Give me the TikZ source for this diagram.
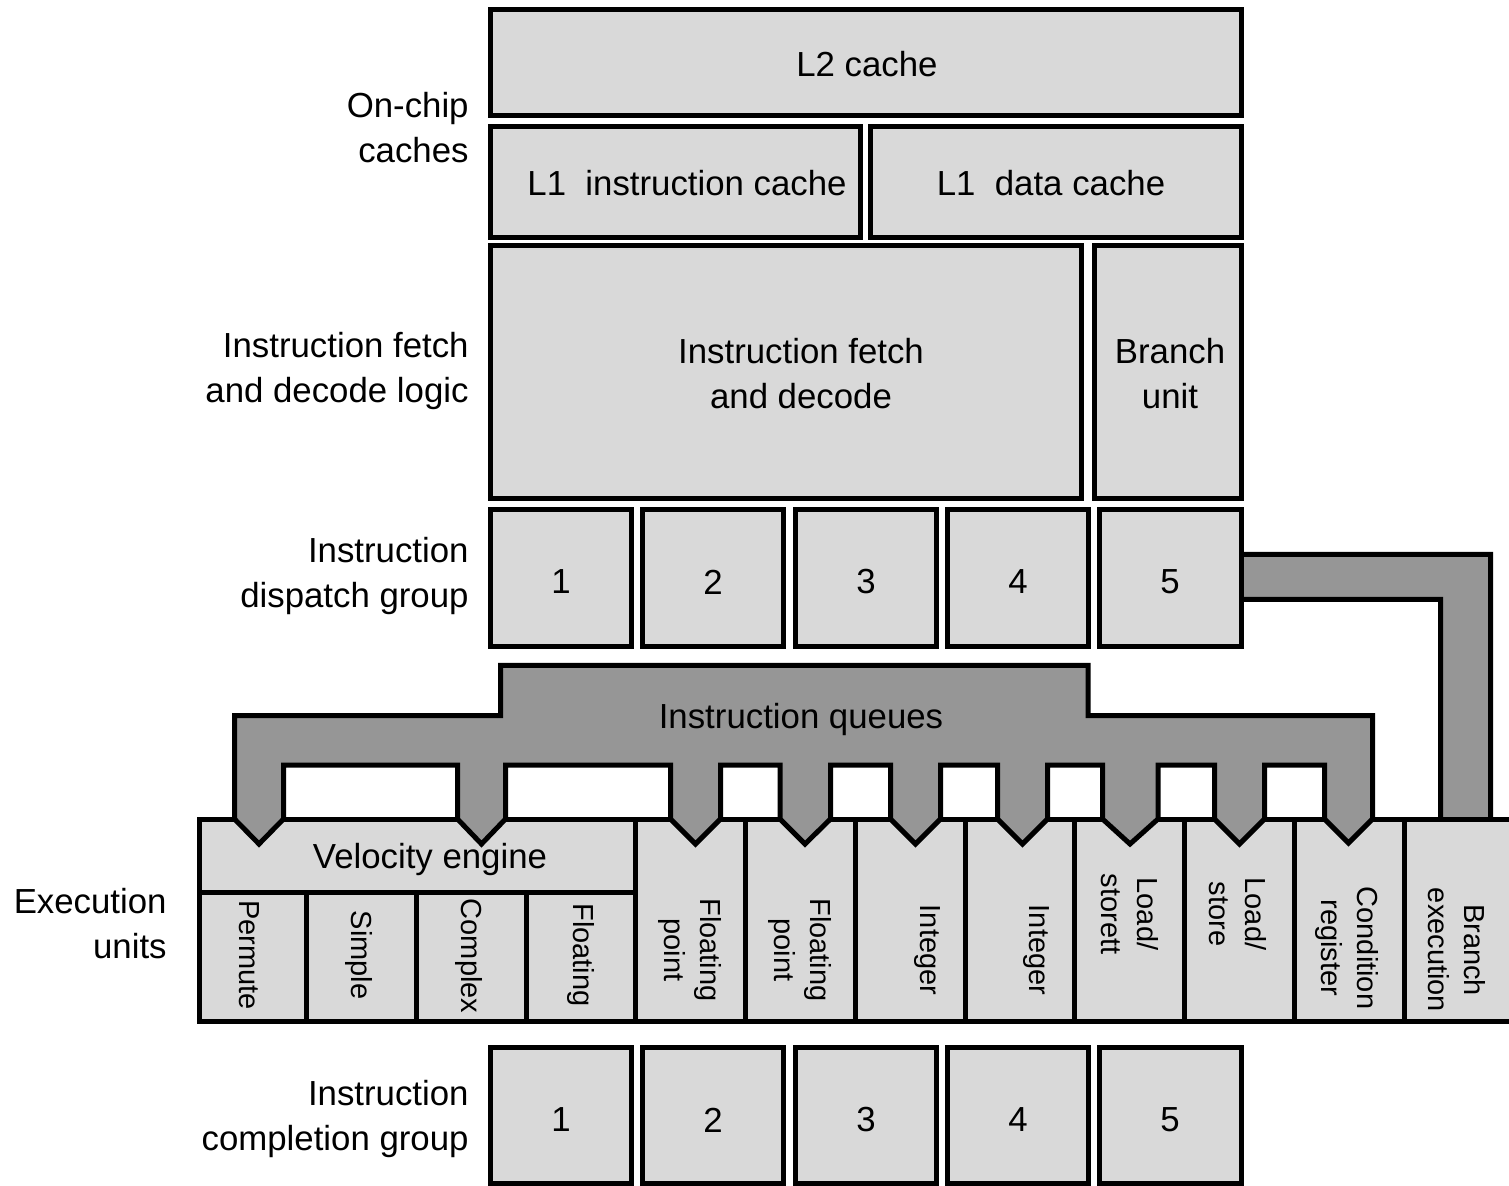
\documentclass[tikz,border=0pt]{standalone}
\usepackage{fontspec}
\setmainfont{Liberation Sans}
\usetikzlibrary{fit}
\definecolor{boxgray}{RGB}{217,217,217}
\definecolor{qgray}{RGB}{150,150,150}
\newcommand\ubx[5]{\node[blk, fit={(#2,#3) (#4,#5)}] (#1) {};}
\begin{document}
\begin{tikzpicture}[x=0.5pt,y=-0.5pt,
  blk/.style={draw=black, fill=boxgray, line width=2.5pt, inner sep=0pt, outer sep=0pt},
  txt/.style={font=\fontsize{17.4}{22.5}\selectfont, align=center, inner sep=0pt},
  lbl/.style={font=\fontsize{17.4}{22.5}\selectfont, align=right, anchor=east, inner sep=0pt},
  vlbl/.style={font=\fontsize{14.5}{18}\selectfont, align=center, rotate=-90, inner sep=0pt},
  band/.style={draw=black, fill=qgray, line width=2.5pt, line join=miter}]
\useasboundingbox (0,0) rectangle (1509,1186);
\fill[white] (0,0) rectangle (1509,1186);

% left labels
\node[lbl] (lcache) at (469,128) {On-chip\\caches};
\node[lbl] (lfetch) at (469,371) {Instruction fetch\\and decode logic};
\node[lbl] (ldisp) at (469,576) {Instruction\\dispatch group};
\node[lbl] (lexec) at (167,924) {Execution\\units};
\node[lbl] (lcompl) at (469,1119) {Instruction\\completion group};

% caches
\ubx{l2}{490.5}{9.5}{1241.5}{115.5}
\ubx{l1i}{490.5}{126.5}{860.5}{237.5}
\ubx{l1d}{870.5}{126.5}{1241.5}{237.5}
\node[txt] (tl2) at (867,64) {L2 cache};
\node[txt] (tl1i) at (687,183) {L1\ \ instruction cache};
\node[txt] (tl1d) at (1051,183) {L1\ \ data cache};

% fetch / branch
\ubx{fetch}{490.5}{245.5}{1081.5}{498.5}
\ubx{bru}{1094.5}{245.5}{1241.5}{498.5}
\node[txt] (tfetch) at (801,374) {Instruction fetch\\and decode};
\node[txt] (tbru) at (1170,374) {Branch\\unit};

% branch band from dispatch 5 to branch execution
\path[band] (1235,554.5) -- (1490.5,554.5) -- (1490.5,819) -- (1465.5,844)
  -- (1440.5,819) -- (1440.5,599.5) -- (1235,599.5) -- cycle;

% dispatch group
\ubx{d1}{490.5}{509.5}{631.5}{646.5}
\ubx{d2}{642.5}{509.5}{783.5}{646.5}
\ubx{d3}{795.5}{509.5}{936.5}{646.5}
\ubx{d4}{947.5}{509.5}{1088.5}{646.5}
\ubx{d5}{1099.5}{509.5}{1241.5}{646.5}
\node[txt] (td1) at (561,582) {1};
\node[txt] (td2) at (713,582) {2};
\node[txt] (td3) at (866,582) {3};
\node[txt] (td4) at (1018,582) {4};
\node[txt] (td5) at (1170,582) {5};

% execution units
\ubx{vel}{199.5}{819}{635.5}{892}
\ubx{e1}{199.5}{892}{306}{1021.5}
\ubx{e2}{306}{892}{416}{1021.5}
\ubx{e3}{416}{892}{526}{1021.5}
\ubx{e4}{526}{892}{635.5}{1021.5}
\ubx{e5}{635.5}{819}{745}{1021.5}
\ubx{e6}{745}{819}{855}{1021.5}
\ubx{e7}{855}{819}{965}{1021.5}
\ubx{e8}{965}{819}{1074}{1021.5}
\ubx{e9}{1074}{819}{1184}{1021.5}
\ubx{e10}{1184}{819}{1294}{1021.5}
\ubx{e11}{1294}{819}{1404}{1021.5}
\ubx{e12}{1404}{819}{1520}{1021.5}
\node[txt] (tvel) at (430,860) {Velocity engine};
\node[vlbl] (te1) at (249,955) {Permute};
\node[vlbl] (te2) at (359,955) {Simple};
\node[vlbl] (te3) at (469,956) {Complex};
\node[vlbl] (te4) at (581,955) {Floating};
\node[vlbl] (te5) at (690,950) {Floating\\point};
\node[vlbl] (te6) at (800,950) {Floating\\point};
\node[vlbl] (te7) at (927,950) {Integer};
\node[vlbl] (te8) at (1036,950) {Integer};
\node[vlbl] (te9) at (1130,914) {Load/\\storett};
\node[vlbl] (te10) at (1238,914) {Load/\\store};
\node[vlbl] (te11) at (1347,948) {Condition\\register};
\node[vlbl] (te12) at (1457,950) {Branch\\execution};

% instruction queues band
\path[band] (234.5,715.5) -- (500.5,715.5) -- (500.5,665.5) -- (1088,665.5)
  -- (1088,715.5) -- (1372.5,715.5) -- (1372.5,819) -- (1348.5,843)
  -- (1324.5,819) -- (1324.5,765) -- (1264.5,765) -- (1264.5,819) -- (1239.5,844)
  -- (1214.5,819) -- (1214.5,765) -- (1158,765) -- (1158,819) -- (1130,844)
  -- (1102.5,819) -- (1102.5,765) -- (1047.5,765) -- (1047.5,819) -- (1022.5,844)
  -- (997.5,819) -- (997.5,765) -- (940.5,765) -- (940.5,819) -- (915.5,844)
  -- (890.5,819) -- (890.5,765) -- (830.5,765) -- (830.5,819) -- (805,844)
  -- (780,819) -- (780,765) -- (720.5,765) -- (720.5,819) -- (695.5,844)
  -- (670.5,819) -- (670.5,765) -- (505.5,765) -- (505.5,819) -- (481.5,844)
  -- (457.5,819) -- (457.5,765) -- (283.5,765) -- (283.5,819) -- (259,844)
  -- (234.5,819) -- cycle;
\node[txt] (tq) at (801,720) {Instruction queues};

% completion group
\ubx{c1}{490.5}{1047.5}{631.5}{1183.5}
\ubx{c2}{642.5}{1047.5}{783.5}{1183.5}
\ubx{c3}{795.5}{1047.5}{936.5}{1183.5}
\ubx{c4}{947.5}{1047.5}{1088.5}{1183.5}
\ubx{c5}{1099.5}{1047.5}{1241.5}{1183.5}
\node[txt] (tc1) at (561,1120) {1};
\node[txt] (tc2) at (713,1120) {2};
\node[txt] (tc3) at (866,1120) {3};
\node[txt] (tc4) at (1018,1120) {4};
\node[txt] (tc5) at (1170,1120) {5};
\end{tikzpicture}
\end{document}
